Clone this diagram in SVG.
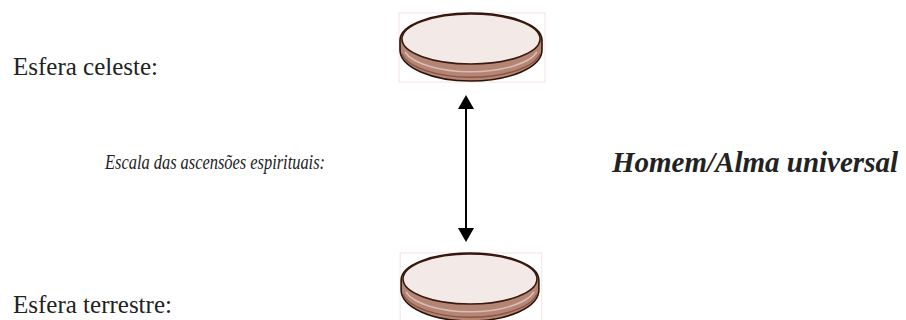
<svg xmlns="http://www.w3.org/2000/svg" width="906" height="320" viewBox="0 0 906 320">
  <style>
    .label { font-family: "Liberation Serif", "Times New Roman", serif; fill: #222; }
    .plain { font-size: 25px; }
    .scale { font-size: 20px; font-style: italic; }
    .title { font-size: 29px; font-style: italic; font-weight: bold; }
    .frame { fill: none; stroke: #f3e4e4; stroke-width: 1; }
    .rim { fill: #b48474; stroke: #2b1207; stroke-width: 1.6; }
    .band { fill: none; stroke: #d9bdb4; stroke-width: 1.5; }
    .band2 { fill: none; stroke: #8c5443; stroke-width: 1.4; }
    .face { fill: #f3e9e7; stroke: #3a1a0e; stroke-width: 1.6; }
    .conn { stroke: #000; stroke-width: 2; fill: none; }
  </style>
  <defs>
    <marker id="head" viewBox="0 0 14 16" refX="12" refY="8" markerWidth="14" markerHeight="16" markerUnits="userSpaceOnUse" orient="auto-start-reverse">
      <path d="M0,0 L14,8 L0,16 Z" fill="#000"/>
    </marker>
    <!-- a flat disk seen from slightly above, centred on x=0, top at y=0 -->
    <g id="disk">
      <rect class="frame" x="-72" y="-1" width="146" height="69"/>
      <path class="rim" d="M-71,26 A71,27 0 0 1 71,26 L71,36 A71,31 0 0 1 -71,36 Z"/>
      <path class="band" d="M-66,38 A68,26 0 0 0 66,38"/>
      <path class="band2" d="M-69,40 A70,28 0 0 0 69,40"/>
      <ellipse class="face" cx="0" cy="25" rx="69" ry="25"/>
    </g>
  </defs>

  <text class="label plain" x="13" y="75">Esfera celeste:</text>
  <text class="label scale" x="105" y="169" textLength="220" lengthAdjust="spacingAndGlyphs">Escala das ascensões espirituais:</text>
  <text class="label title" x="612" y="172">Homem/Alma universal</text>
  <text class="label plain" x="13" y="313">Esfera terrestre:</text>

  <g id="celeste">
    <use href="#disk" transform="translate(471,14)"/>
  </g>
  <g id="terrestre">
    <use href="#disk" transform="translate(470,254) scale(0.97,1)"/>
  </g>

  <g id="connectors">
    <line class="conn" x1="466" y1="97" x2="466" y2="240" marker-start="url(#head)" marker-end="url(#head)"/>
  </g>
</svg>
